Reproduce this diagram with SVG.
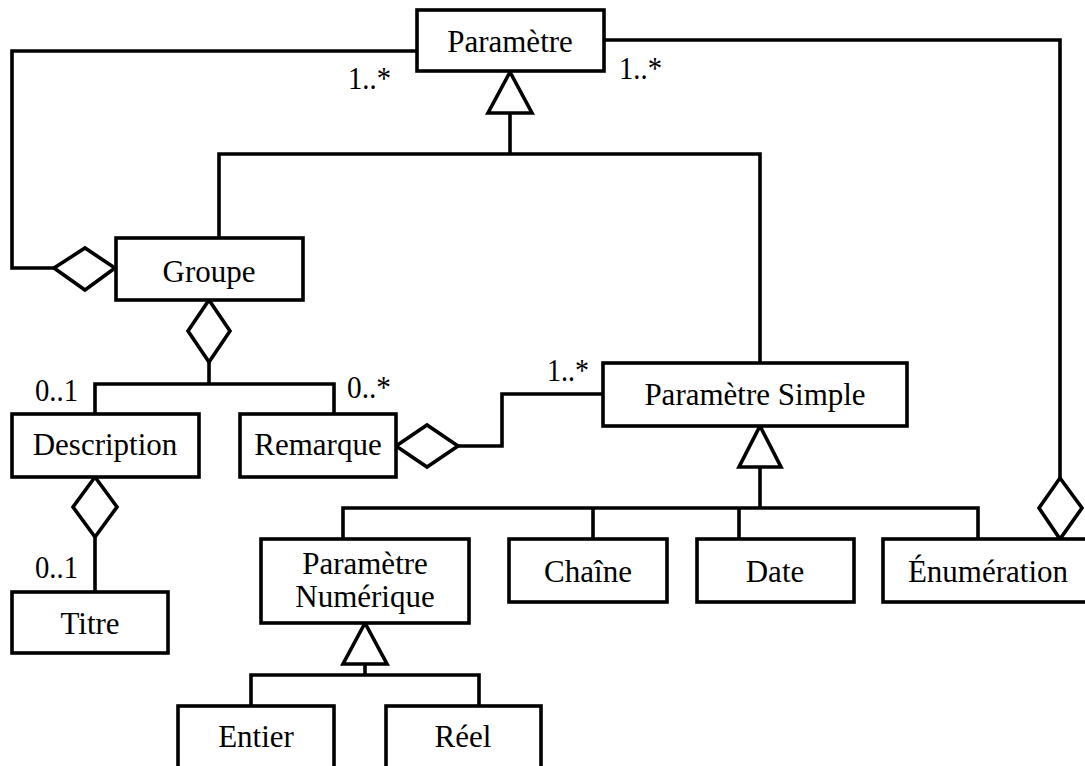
<svg xmlns="http://www.w3.org/2000/svg" width="1085" height="766" viewBox="0 0 1085 766">
<style>
.box{fill:#fff;stroke:#000;stroke-width:3.6}
.ln{fill:none;stroke:#000;stroke-width:3.6;stroke-linejoin:miter}
.hd{fill:#fff;stroke:#000;stroke-width:3.6;stroke-linejoin:miter}
.t{font-family:"Liberation Serif","Times New Roman",serif;font-size:31px;fill:#000;text-anchor:middle}
.m{font-family:"Liberation Serif","Times New Roman",serif;font-size:31px;fill:#000}
</style>
<rect width="1085" height="766" fill="#fff"/>
<g id="connectors">
  <polyline class="ln" points="416,51 12,51 12,268 54,268"/>
  <polygon class="hd" points="54,268 85,248 115,268 85,290"/>
  <polyline class="ln" points="219,238 219,154 760,154 760,363"/>
  <line class="ln" x1="510" y1="113" x2="510" y2="154"/>
  <polygon class="hd" points="510,72 532,113 488,113"/>
  <polyline class="ln" points="605,40 1060,40 1060,478"/>
  <polygon class="hd" points="1060,478 1082,508 1060,539 1039,508"/>
  <polyline class="ln" points="209,362 209,384"/>
  <polyline class="ln" points="95,414 95,384 334,384 334,414"/>
  <polygon class="hd" points="209,300 230,331 209,362 188,331"/>
  <polyline class="ln" points="458,446 502,446 502,394 603,394"/>
  <polygon class="hd" points="396,446 427,425 458,446 427,467"/>
  <line class="ln" x1="95" y1="537" x2="95" y2="592"/>
  <polygon class="hd" points="95,477 117,507 95,537 73,507"/>
  <line class="ln" x1="760" y1="467" x2="760" y2="508"/>
  <polyline class="ln" points="343,539 343,508 978,508 978,539"/>
  <line class="ln" x1="593" y1="508" x2="593" y2="539"/>
  <line class="ln" x1="739" y1="508" x2="739" y2="539"/>
  <polygon class="hd" points="760,426 781,467 739,467"/>
  <line class="ln" x1="365" y1="664" x2="365" y2="675"/>
  <polyline class="ln" points="251,706 251,675 479,675 479,706"/>
  <polygon class="hd" points="365,623 387,664 343,664"/>
  <text class="m" x="348" y="89" textLength="43" lengthAdjust="spacingAndGlyphs">1..*</text>
  <text class="m" x="619" y="79" textLength="43" lengthAdjust="spacingAndGlyphs">1..*</text>
  <text class="m" x="35" y="401" textLength="43" lengthAdjust="spacingAndGlyphs">0..1</text>
  <text class="m" x="347" y="398" textLength="44" lengthAdjust="spacingAndGlyphs">0..*</text>
  <text class="m" x="547" y="381" textLength="42" lengthAdjust="spacingAndGlyphs">1..*</text>
  <text class="m" x="35" y="578" textLength="43" lengthAdjust="spacingAndGlyphs">0..1</text>
</g>
<g id="parametre"><rect class="box" x="417" y="10" width="187" height="61"/><text class="t" x="510" y="52">Paramètre</text></g>
<g id="groupe"><rect class="box" x="116" y="238" width="187" height="62"/><text class="t" x="209" y="282">Groupe</text></g>
<g id="description"><rect class="box" x="12" y="414" width="187" height="63"/><text class="t" x="105" y="455">Description</text></g>
<g id="remarque"><rect class="box" x="240" y="414" width="156" height="63"/><text class="t" x="318" y="455">Remarque</text></g>
<g id="titre"><rect class="box" x="12" y="592" width="156" height="61"/><text class="t" x="90" y="634">Titre</text></g>
<g id="parametre-simple"><rect class="box" x="603" y="363" width="304" height="63"/><text class="t" x="755" y="405">Paramètre Simple</text></g>
<g id="parametre-numerique"><rect class="box" x="261" y="539" width="208" height="84"/><text class="t" x="365" y="574">Paramètre</text><text class="t" x="365" y="607">Numérique</text></g>
<g id="chaine"><rect class="box" x="509" y="539" width="158" height="63"/><text class="t" x="588" y="582">Chaîne</text></g>
<g id="date"><rect class="box" x="697" y="539" width="157" height="63"/><text class="t" x="775" y="582">Date</text></g>
<g id="enumeration"><rect class="box" x="883" y="539" width="210" height="63"/><text class="t" x="988" y="582">Énumération</text></g>
<g id="entier"><rect class="box" x="178" y="706" width="156" height="70"/><text class="t" x="256" y="747">Entier</text></g>
<g id="reel"><rect class="box" x="386" y="706" width="155" height="70"/><text class="t" x="463" y="747">Réel</text></g>
</svg>
